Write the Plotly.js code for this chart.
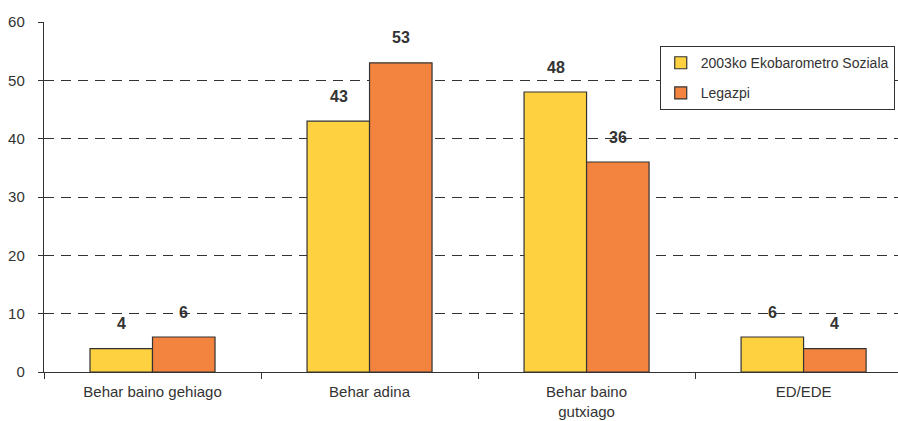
<!DOCTYPE html>
<html>
<head>
<meta charset="utf-8">
<script src="https://cdn.plot.ly/plotly-3.0.1.min.js"></script>
<style>html,body{margin:0;padding:0;background:#fff;overflow:hidden;}</style>
</head>
<body>
<div id="chart" style="width:898px;height:421px;"></div>
<script>
const categories = ["Behar baino gehiago", "Behar adina", "Behar baino<br>gutxiago", "ED/EDE"];
const seriesNames = ["2003ko Ekobarometro Soziala", "Legazpi"];
const ekobarometro = [4, 43, 48, 6];
const legazpi = [6, 53, 36, 4];
const yTicks = [0, 10, 20, 30, 40, 50, 60];

const FONT = "Liberation Sans, Arial, sans-serif";
const colors = ["#FDD13F", "#F3843F"];
const series = [ekobarometro, legazpi];

const traces = series.map((vals, i) => ({
  type: "bar",
  name: seriesNames[i],
  legendgroup: "g" + i,
  x: categories,
  y: vals,
  marker: {color: colors[i], line: {color: "#333333", width: 1.2}},
  hoverinfo: "none"
}));

const annotations = [];
series.forEach((vals, i) => {
  vals.forEach((v, j) => {
    annotations.push({
      x: categories[j], y: v, xref: "x", yref: "y",
      text: "<b>" + v + "</b>", showarrow: false,
      xshift: i === 0 ? -31 : 31, yshift: 25,
      yanchor: "middle",
      font: {family: FONT, size: 16, color: "#333333"}
    });
  });
});

const layout = {
  width: 898, height: 421,
  margin: {l: 44, r: 0, t: 22, b: 49, autoexpand: false},
  paper_bgcolor: "#ffffff", plot_bgcolor: "#ffffff",
  barmode: "group", bargap: 0.424, bargroupgap: 0,
  showlegend: true,
  legend: {
    x: 0.721, y: 0.931, xanchor: "left", yanchor: "top",
    bgcolor: "#ffffff", bordercolor: "#333333", borderwidth: 1,
    font: {family: FONT, size: 14, color: "#333333"},
    itemwidth: 30, tracegroupgap: 9
  },
  xaxis: {
    range: [-0.5, 3.435],
    showline: true, linecolor: "#333333", linewidth: 1.2,
    ticks: "outside", tickson: "boundaries", ticklen: 6, tickcolor: "#333333",
    tickfont: {family: FONT, size: 15, color: "#333333"},
    ticklabelstandoff: 6,
    showgrid: false, zeroline: false, fixedrange: true
  },
  yaxis: {
    range: [0, 60],
    tickvals: yTicks,
    showline: true, linecolor: "#333333", linewidth: 1.2,
    ticks: "outside", ticklen: 5, tickcolor: "#333333",
    tickfont: {family: FONT, size: 15, color: "#333333"},
    ticklabelstandoff: 10,
    showgrid: true, gridcolor: "#333333", griddash: "10px,7px", gridwidth: 1,
    zeroline: false, fixedrange: true
  },
  annotations: annotations
};

Plotly.newPlot("chart", traces, layout, {displayModeBar: false, staticPlot: true});
</script>
</body>
</html>
